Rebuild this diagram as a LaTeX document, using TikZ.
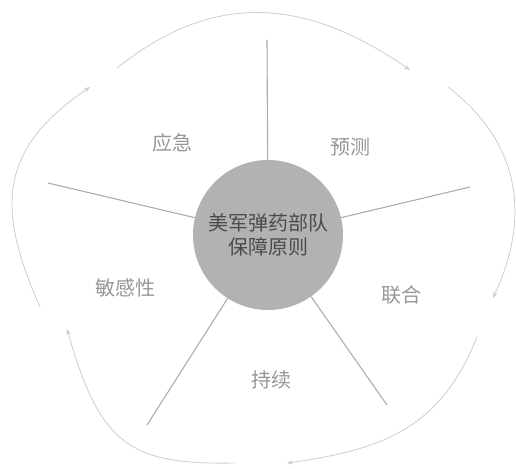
\documentclass[tikz,border=0pt]{standalone}
\usepackage{fontspec}
\newfontfamily\cjk{Noto Sans CJK SC}
\usetikzlibrary{arrows.meta}
\definecolor{spokec}{RGB}{172,172,172}
\definecolor{arcc}{RGB}{205,205,205}
\definecolor{hubc}{RGB}{178,178,178}
\definecolor{hubtext}{RGB}{75,75,75}
\definecolor{labc}{RGB}{150,150,150}
\tikzset{
  spoke/.style={draw=spokec, line width=1.1pt},
  cyc/.style={draw=arcc, line width=0.8pt, -{Stealth[length=6pt,width=4.5pt]}},
  lab/.style={font=\cjk\fontsize{20}{24}\selectfont, text=labc},
}
\begin{document}
\begin{tikzpicture}[x=1pt,y=-1pt]
\useasboundingbox (0,0) rectangle (516,468);
% hub
\node[circle, fill=hubc, minimum size=150pt, inner sep=0pt,
      font=\cjk\fontsize{20}{24}\selectfont, text=hubtext, align=center] (hub) at (268,235) {美军弹药部队\\保障原则};
% spoke ends
\coordinate (sT) at (267,40);
\coordinate (sL) at (48,183);
\coordinate (sR) at (470,187);
\coordinate (sBL) at (147,425);
\coordinate (sBR) at (387,405);
\draw[spoke] (sT) -- (hub);
\draw[spoke] (sL) -- (hub);
\draw[spoke] (sR) -- (hub);
\draw[spoke] (sBL) -- (hub);
\draw[spoke] (sBR) -- (hub);
% labels
\node[lab] (l1) at (172,143) {应急};
\node[lab] (l2) at (350,147) {预测};
\node[lab] (l3) at (125,288) {敏感性};
\node[lab] (l4) at (401,295) {联合};
\node[lab] (l5) at (271,380) {持续};
% outer cycle
\coordinate (a1) at (117,68);
\coordinate (a2) at (410,70);
\coordinate (b1) at (448,87);
\coordinate (b2) at (493,298);
\coordinate (c1) at (477,337);
\coordinate (c2) at (287,463);
\coordinate (d1) at (235,463);
\coordinate (d2) at (67,329);
\coordinate (e1) at (40,307);
\coordinate (e2) at (90,87);
\draw[cyc] (a1) .. controls (210,-6) and (300,-6) .. (a2);
\draw[cyc] (b1) .. controls (530,150) and (525,230) .. (b2);
\draw[cyc] (c1) .. controls (440,430) and (380,450) .. (c2);
\draw[cyc] (d1) .. controls (130,465) and (100,445) .. (d2);
\draw[cyc] (e1) .. controls (-3,210) and (-3,150) .. (e2);
\end{tikzpicture}
\end{document}
